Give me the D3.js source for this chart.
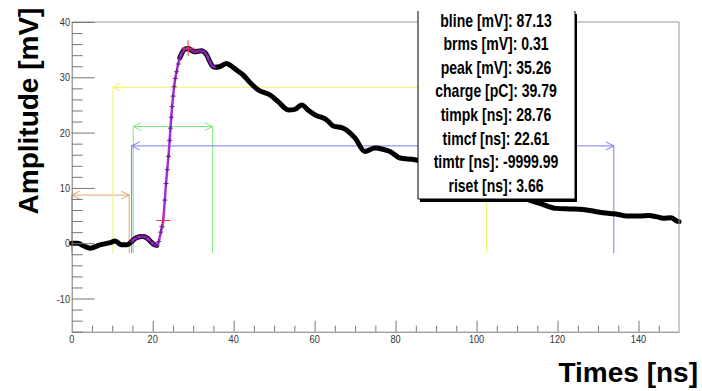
<!DOCTYPE html>
<html>
<head>
<meta charset="utf-8">
<script src="https://cdn.jsdelivr.net/npm/d3@7"></script>
<style>
  body { margin: 0; background: #fff; }
  svg { display: block; font-family: "Liberation Sans", Arial, sans-serif; }
</style>
</head>
<body>
<div id="chart"></div>
<script>
// waveform samples
const timeNs = [0, 1.5, 3, 4.5, 7, 9.5, 10.7, 12.3, 13.6, 14.5, 14.8, 16, 17.5, 18.5, 19.5, 20.3, 21.0,
  21.5, 22.0, 22.3, 22.6, 23.0, 23.3, 23.6, 23.9, 24.2, 24.4, 24.6, 24.8, 25.05, 25.3, 25.6, 25.9, 26.3, 26.7,
  27.3, 28.0, 28.8, 29.5, 30.4, 31.2, 32.1, 32.8, 33.3, 34.0, 34.6, 35.4,
  36.5, 38.3, 39.1, 40.7, 42.4, 43.6, 46.1, 49, 51, 53.5, 55.1, 56.8, 58.5, 60.1, 63.0, 64.6, 67.1, 70,
  72.4, 74.9, 76.8, 78.6, 81.1, 84.8, 88, 92, 96, 100, 104, 108, 112, 115.6, 119.7, 123, 126.3, 129.6,
  132.5, 135, 137, 140.3, 142.5, 144.4, 146.1, 148, 149.5, 150];
const ampMv = [0.0, 0.0, -0.5, -0.9, -0.3, 0.1, 0.4, -0.3, -0.3, 0.1, 0.3, 1.0, 1.2, 1.0, 0.3, -0.2, -0.4,
  0.3, 2.0, 3.0, 4.1, 7.8, 10.8, 13.3, 15.7, 18.6, 20.8, 22.8, 24.7, 26.6, 28.3, 29.8, 31.0, 32.4, 33.5,
  34.5, 35.1, 35.2, 34.9, 34.6, 34.7, 34.8, 34.5, 34.1, 33.0, 32.2, 31.8,
  31.9, 32.5, 32.2, 31.3, 30.4, 29.4, 27.7, 26.8, 25.6, 24.1, 24.2, 25.0, 24.0, 23.2, 22.3, 21.2, 20.8, 19.0,
  16.6, 17.2, 17.0, 16.6, 15.4, 15.1, 14.4, 13.2, 12.0, 11.0, 10.0, 9.0, 8.0, 7.2, 6.3, 6.2, 6.1, 5.7,
  5.4, 5.2, 4.9, 4.9, 5.0, 4.8, 4.5, 4.6, 4.0, 3.9];

// fit range (purple) in ns, and the steep leading edge where only the fit shows
const fitRange = [14.8, 35.4];
const edgeRange = [21.2, 26.5];

// red markers: timcf and peak
const markT = [22.61, 28.76];
const markV = [4.1, 35.26];

// measurement arrows
const arrowY = [8.7, 28.2, 21.1, 17.6];
const arrowX0 = [0, 10.2, 15.2, 14.8];
const arrowX1 = [14.2, 102.5, 34.8, 133.9];
const arrowFloor = -1.8;
const arrowColors = ['#e3a46a', '#f0f05a', '#80ea80', '#7a7af2'];

// axis ticks
const xTicks = [0, 20, 40, 60, 80, 100, 120, 140];
const yTicks = [-10, 0, 10, 20, 30, 40];

// stats box
const statLines = ['bline [mV]: 87.13', 'brms [mV]: 0.31', 'peak [mV]: 35.26', 'charge [pC]: 39.79',
  'timpk [ns]: 28.76', 'timcf [ns]: 22.61', 'timtr [ns]: -9999.99', 'riset [ns]: 3.66'];

const W = 702, H = 391;
const svg = d3.select('#chart').append('svg').attr('width', W).attr('height', H);

const x = d3.scaleLinear().domain([0, 150]).range([71.7, 679]);
const y = d3.scaleLinear().domain([-16, 40]).range([331.7, 22]);

// arrows
const head = (xa, ya, dir) => `M${xa - dir * 8},${ya - 4}L${xa},${ya}L${xa - dir * 8},${ya + 4}`;
arrowY.forEach((v, i) => {
  const g = svg.append('g').attr('stroke', arrowColors[i]).attr('fill', 'none').attr('stroke-width', 1);
  const x0 = x(arrowX0[i]), x1 = x(arrowX1[i]), yy = y(v);
  g.append('line').attr('x1', x0).attr('x2', x1).attr('y1', yy).attr('y2', yy);
  g.append('line').attr('x1', x0).attr('x2', x0).attr('y1', yy).attr('y2', y(arrowFloor));
  g.append('line').attr('x1', x1).attr('x2', x1).attr('y1', yy).attr('y2', y(arrowFloor));
  g.append('path').attr('d', head(x0, yy, -1));
  g.append('path').attr('d', head(x1, yy, 1));
});

// waveform
const pts = timeNs.map((t, i) => [t, ampMv[i]]);
const line = d3.line().x(d => x(d[0])).y(d => y(d[1])).curve(d3.curveMonotoneX);
const blackLine = d3.line().x(d => x(d[0])).y(d => y(d[1])).curve(d3.curveMonotoneX)
  .defined(d => d[0] <= edgeRange[0] || d[0] >= edgeRange[1]);
svg.append('path').datum(pts).attr('d', blackLine)
  .attr('fill', 'none').attr('stroke', '#000').attr('stroke-width', 5)
  .attr('stroke-linejoin', 'round').attr('stroke-linecap', 'round');

const fitPts = pts.filter(d => d[0] >= fitRange[0] && d[0] <= fitRange[1]);
svg.append('path').datum(fitPts).attr('d', line)
  .attr('fill', 'none').attr('stroke', '#a52fd8').attr('stroke-width', 2.5);

svg.append('g').selectAll('path').data(fitPts).join('path')
  .attr('d', d => `M${x(d[0]) - 2.5},${y(d[1])}h5M${x(d[0])},${y(d[1]) - 2.5}v5`)
  .attr('stroke', '#6e1c8e').attr('stroke-width', 1);

svg.append('g').selectAll('path').data(markT).join('path')
  .attr('d', (t, i) => `M${x(t) - 7},${y(markV[i])}h14M${x(t)},${y(markV[i]) - 8}v16`)
  .attr('stroke', '#f03c3c').attr('stroke-width', 1);

// frame and axes
const axisCol = '#777';
svg.append('line').attr('x1', x(0)).attr('x2', x(150)).attr('y1', y(40)).attr('y2', y(40)).attr('stroke', '#999');
svg.append('line').attr('x1', x(150)).attr('x2', x(150)).attr('y1', y(40)).attr('y2', y(-16)).attr('stroke', '#999');

const xAxis = svg.append('g').attr('transform', `translate(0,${y(-16)})`)
  .call(d3.axisTop(x).tickValues(d3.range(0, 151, 5)).tickSize(0).tickFormat(''));
xAxis.select('.domain').attr('stroke', axisCol);
xAxis.selectAll('.tick line').attr('stroke', axisCol).attr('y2', d => d % 20 === 0 ? -11 : -6);
xAxis.selectAll('.tick').filter(d => d === 0 || d === 150).select('line').remove();

const yAxis = svg.append('g').attr('transform', `translate(${x(0)},0)`)
  .call(d3.axisRight(y).tickValues(d3.range(-16, 41, 2)).tickSize(0).tickFormat(''));
yAxis.select('.domain').attr('stroke', axisCol);
yAxis.selectAll('.tick line').attr('stroke', axisCol).attr('x2', d => d % 10 === 0 ? 23 : 11);

svg.append('g').selectAll('text').data(xTicks).join('text')
  .attr('transform', d => `translate(${x(d)},${y(-16) + 11}) scale(0.8,1)`)
  .attr('text-anchor', 'middle').attr('font-size', 11.5).attr('fill', '#333').text(d => d);

svg.append('g').selectAll('text').data(yTicks).join('text')
  .attr('transform', d => `translate(70,${y(d) + 4}) scale(0.8,1)`)
  .attr('text-anchor', 'end').attr('font-size', 11.5).attr('fill', '#333').text(d => d);

// stats box
const bx0 = 418, bx1 = 575, by0 = 11, by1 = 199;
svg.append('rect').attr('x', bx0 + 2).attr('y', by0 + 3).attr('width', bx1 - bx0).attr('height', by1 - by0).attr('fill', '#000');
svg.append('rect').attr('x', bx0).attr('y', by0 - 12).attr('width', bx1 - bx0).attr('height', by1 - by0 + 12).attr('fill', '#fff');
svg.append('path').attr('d', `M${bx0},${by0}V${by1}H${bx1}V${by0}`).attr('fill', 'none').attr('stroke', '#000');
svg.append('g').selectAll('text').data(statLines).join('text')
  .attr('transform', (d, i) => `translate(496,${26.5 + i * 23.6}) scale(0.78,1)`)
  .attr('text-anchor', 'middle').attr('font-size', 18).attr('font-weight', 'bold').text(d => d);

// axis titles
svg.append('text').attr('transform', 'translate(38,111) rotate(-90)')
  .attr('text-anchor', 'middle').attr('font-size', 28).attr('font-weight', 'bold').text('Amplitude [mV]');
svg.append('text').attr('x', 698).attr('y', 382)
  .attr('text-anchor', 'end').attr('font-size', 28).attr('font-weight', 'bold').text('Times [ns]');
</script>
</body>
</html>
